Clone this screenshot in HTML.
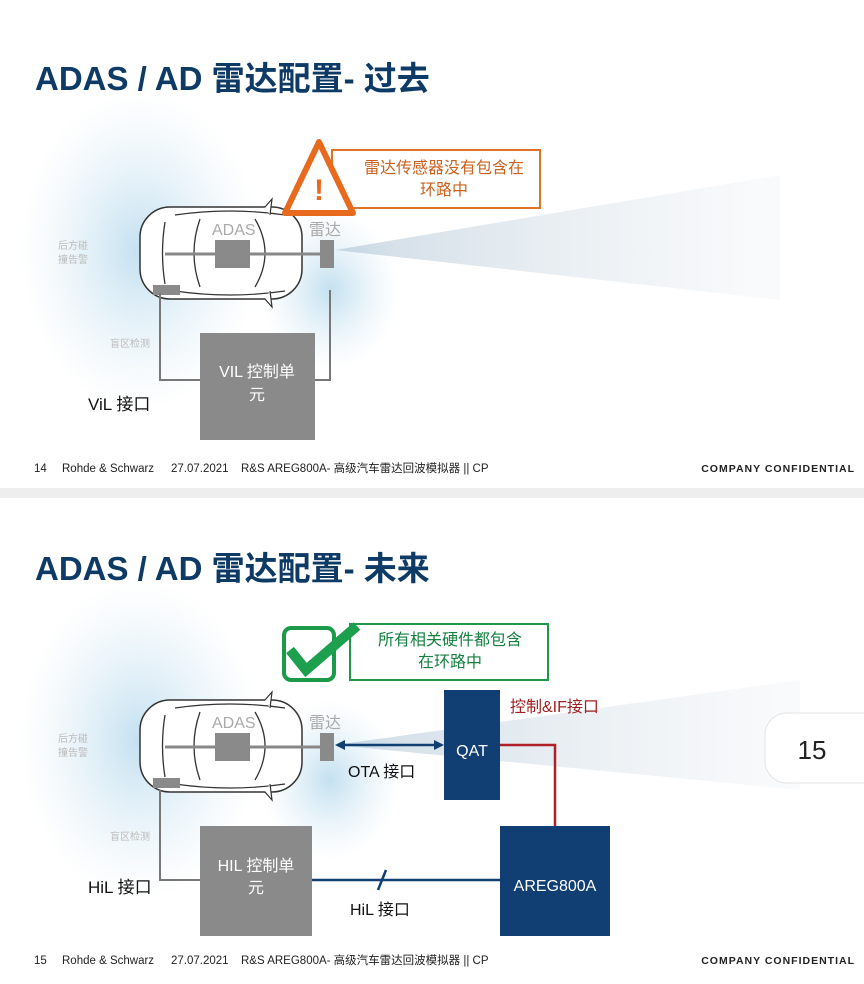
<!DOCTYPE html>
<html><head><meta charset="utf-8"><style>
html,body{margin:0;padding:0;background:#fff}
svg{display:block}
text{font-family:"Liberation Sans","Noto Sans CJK SC",sans-serif}
</style></head><body>
<svg width="864" height="984" viewBox="0 0 864 984" xmlns="http://www.w3.org/2000/svg">
<defs>
<radialGradient id="haze" cx="50%" cy="50%" r="50%">
<stop offset="0" stop-color="#a9d3ea" stop-opacity="0.7"/>
<stop offset="1" stop-color="#cfe6f3" stop-opacity="0"/>
</radialGradient>
<linearGradient id="cone" x1="0" x2="1" y1="0" y2="0">
<stop offset="0" stop-color="#9fb8cc" stop-opacity="0.85"/>
<stop offset="1" stop-color="#dfe6ec" stop-opacity="0.3"/>
</linearGradient>
<g id="car">
<rect x="140" y="0" width="162" height="92" rx="30" fill="#fff" stroke="#333" stroke-width="1.5"/>
<path d="M165 15 Q160 46 165 77" fill="none" stroke="#333" stroke-width="1.3"/>
<path d="M200 12 Q188 46 200 80" fill="none" stroke="#333" stroke-width="1.3"/>
<path d="M255 12 Q275 46 255 80" fill="none" stroke="#333" stroke-width="1.3"/>
<path d="M175 8 Q230 0 285 8" fill="none" stroke="#333" stroke-width="1.2"/>
<path d="M175 84 Q230 92 285 84" fill="none" stroke="#333" stroke-width="1.2"/>
<path d="M265 0 L272 -8 L270 8" fill="#fff" stroke="#333" stroke-width="1.2"/>
<path d="M265 92 L272 100 L270 84" fill="#fff" stroke="#333" stroke-width="1.2"/>
<line x1="165" y1="47" x2="330" y2="47" stroke="#888" stroke-width="3"/>
<rect x="215" y="33" width="35" height="28" fill="#8a8a8a"/>
<rect x="320" y="33" width="14" height="28" fill="#8a8a8a"/>
<rect x="153" y="78" width="27" height="10" fill="#8a8a8a"/>
<text x="212" y="28" font-size="16" fill="#aaa">ADAS</text>
<text x="309" y="28" font-size="16" fill="#aaa">雷达</text>
<text x="58" y="42" font-size="10" fill="#bbb">后方碰</text>
<text x="58" y="56" font-size="10" fill="#bbb">撞告警</text>
<text x="110" y="140" font-size="10" fill="#bbb">盲区检测</text>
</g>
<g id="foot">
<text x="0" y="0" font-size="11.5" fill="#222">
<tspan x="0">#</tspan><tspan x="28">Rohde &amp; Schwarz</tspan><tspan x="137">27.07.2021</tspan><tspan x="207">R&amp;S AREG800A- 高级汽车雷达回波模拟器 || CP</tspan></text>
</g>
</defs>

<!-- slide 1 -->
<ellipse cx="140" cy="250" rx="120" ry="160" fill="url(#haze)"/>
<ellipse cx="330" cy="290" rx="70" ry="80" fill="url(#haze)"/>
<polygon points="335,250 780,175 780,300" fill="url(#cone)" opacity="0.6"/>
<text x="35" y="90" font-size="33" font-weight="bold" fill="#0e3a66">ADAS / AD 雷达配置- 过去</text>
<g transform="translate(0,207)"><use href="#car"/></g>
<polyline points="160,293 160,380 200,380" fill="none" stroke="#777" stroke-width="2"/>
<polyline points="315,380 330,380 330,290" fill="none" stroke="#777" stroke-width="2"/>
<rect x="200" y="333" width="115" height="107" fill="#8a8a8a"/>
<text x="257" y="377" font-size="16" fill="#fff" text-anchor="middle">VIL 控制单</text>
<text x="257" y="400" font-size="16" fill="#fff" text-anchor="middle">元</text>
<text x="88" y="410" font-size="17" fill="#111">ViL 接口</text>
<rect x="332" y="150" width="208" height="58" fill="#fff" stroke="#e07226" stroke-width="2"/>
<text x="444" y="173" font-size="16" fill="#c8621e" text-anchor="middle">雷达传感器没有包含在</text>
<text x="444" y="195" font-size="16" fill="#c8621e" text-anchor="middle">环路中</text>
<polygon points="319,142 285,213 353,213" fill="#fff" stroke="#e86a1e" stroke-width="6" stroke-linejoin="round"/>
<text x="319" y="200" font-size="30" font-weight="bold" fill="#e86a1e" text-anchor="middle">!</text>
<text font-size="11.5" fill="#222" y="472"><tspan x="34">14</tspan><tspan x="62">Rohde &amp; Schwarz</tspan><tspan x="171">27.07.2021</tspan><tspan x="241">R&amp;S AREG800A- 高级汽车雷达回波模拟器 || CP</tspan></text>
<text x="855" y="472" font-size="10.5" font-weight="bold" fill="#222" text-anchor="end" letter-spacing="1">COMPANY CONFIDENTIAL</text>

<rect x="0" y="488" width="864" height="10" fill="#eeeeee"/>

<!-- slide 2 -->
<ellipse cx="140" cy="740" rx="120" ry="160" fill="url(#haze)"/>
<ellipse cx="330" cy="780" rx="70" ry="80" fill="url(#haze)"/>
<polygon points="335,745 800,680 800,790" fill="url(#cone)" opacity="0.6"/>
<text x="35" y="580" font-size="33" font-weight="bold" fill="#0e3a66">ADAS / AD 雷达配置- 未来</text>
<g transform="translate(0,700)"><use href="#car"/></g>
<rect x="350" y="624" width="198" height="56" fill="#fff" stroke="#1c9a4a" stroke-width="2"/>
<text x="450" y="645" font-size="16" fill="#168040" text-anchor="middle">所有相关硬件都包含</text>
<text x="450" y="667" font-size="16" fill="#168040" text-anchor="middle">在环路中</text>
<rect x="284" y="628" width="50" height="52" rx="7" fill="#fff" stroke="#1c9a4a" stroke-width="4"/>
<polyline points="290,650 306,670 357,626" fill="none" stroke="#1ca04e" stroke-width="10"/>
<rect x="444" y="690" width="56" height="110" fill="#123f73"/>
<text x="472" y="756" font-size="16" fill="#fff" text-anchor="middle">QAT</text>
<text x="510" y="712" font-size="16" fill="#a02020">控制&amp;IF接口</text>
<line x1="342" y1="745" x2="437" y2="745" stroke="#123f73" stroke-width="2.5"/>
<polygon points="335,745 345,740 345,750" fill="#123f73"/>
<polygon points="444,745 434,740 434,750" fill="#123f73"/>
<text x="348" y="777" font-size="16" fill="#111">OTA 接口</text>
<polyline points="500,745 555,745 555,826" fill="none" stroke="#b02028" stroke-width="2.5"/>
<rect x="500" y="826" width="110" height="110" fill="#123f73"/>
<text x="555" y="891" font-size="16" fill="#fff" text-anchor="middle">AREG800A</text>
<polyline points="160,790 160,880 200,880" fill="none" stroke="#777" stroke-width="2"/>
<rect x="200" y="826" width="112" height="110" fill="#8a8a8a"/>
<text x="256" y="871" font-size="16" fill="#fff" text-anchor="middle">HIL 控制单</text>
<text x="256" y="893" font-size="16" fill="#fff" text-anchor="middle">元</text>
<line x1="312" y1="880" x2="500" y2="880" stroke="#123f73" stroke-width="2.5"/>
<line x1="378" y1="890" x2="386" y2="870" stroke="#123f73" stroke-width="2.5"/>
<text x="350" y="915" font-size="16" fill="#111">HiL 接口</text>
<text x="88" y="893" font-size="17" fill="#111">HiL 接口</text>
<rect x="765" y="713" width="120" height="70" rx="22" fill="#fff" stroke="#e4e4e4"/>
<text x="812" y="759" font-size="26" fill="#222" text-anchor="middle">15</text>
<text font-size="11.5" fill="#222" y="964"><tspan x="34">15</tspan><tspan x="62">Rohde &amp; Schwarz</tspan><tspan x="171">27.07.2021</tspan><tspan x="241">R&amp;S AREG800A- 高级汽车雷达回波模拟器 || CP</tspan></text>
<text x="855" y="964" font-size="10.5" font-weight="bold" fill="#222" text-anchor="end" letter-spacing="1">COMPANY CONFIDENTIAL</text>
</svg>
</body></html>
